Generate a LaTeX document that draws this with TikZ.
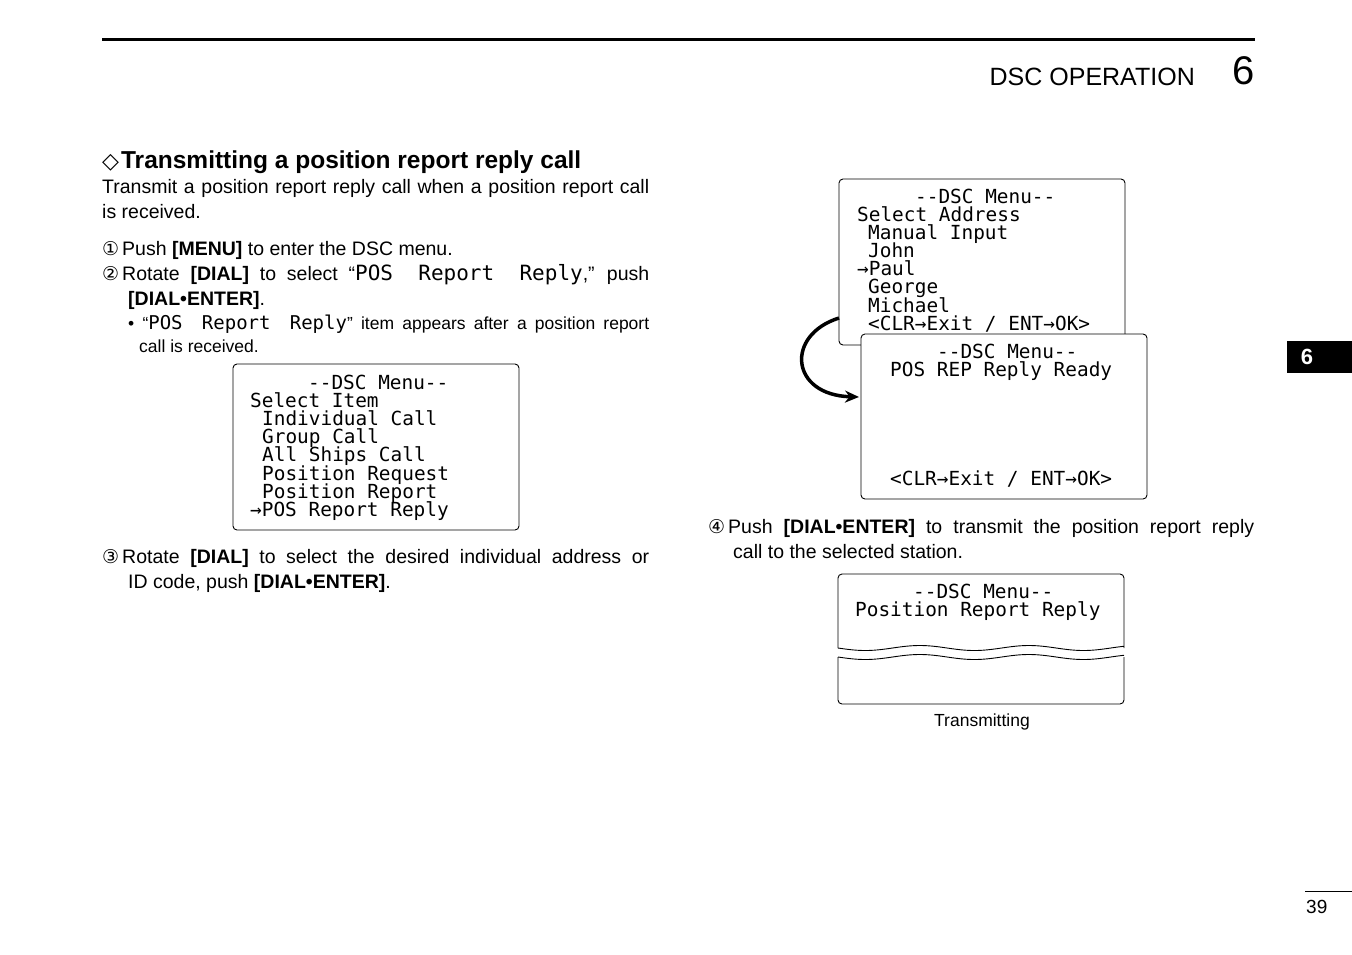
\documentclass[tikz,border=0pt]{standalone}
\usepackage{fontspec}
\setmainfont{Liberation Sans}
\newfontfamily\lcdf{DejaVu Sans Mono}
\newfontfamily\symf{DejaVu Sans}
\usetikzlibrary{arrows.meta}
\begin{document}
\begin{tikzpicture}[x=1pt,y=-1pt,
  body/.style={anchor=base west,inner sep=0,font=\fontsize{19.5}{22}\selectfont},
  lcd/.style={anchor=base west,inner sep=0,font=\lcdf\fontsize{19.4}{18}\selectfont},
  screen/.style={draw,line width=0.9,rounded corners=4,fill=white}]
\useasboundingbox (0,0) rectangle (1352,954);
\draw[line width=3] (102,39) -- (1255,39);
\node[anchor=base east,inner sep=0,font=\fontsize{25}{26}\selectfont] (hdr) at (1195,85) {DSC OPERATION};
\node[anchor=base east,inner sep=0,font=\fontsize{40}{40}\selectfont] (chap) at (1255,84) {6};
\fill (1287,341) rectangle (1352,373);
\node[text=white,font=\bfseries\fontsize{22}{22}\selectfont] (tab) at (1307,357) {6};
\draw[line width=0.8] (1305,891) -- (1352,891);
\node[anchor=base west,inner sep=0,font=\fontsize{19}{20}\selectfont] (pg) at (1306,913) {39};
% heading
\node[anchor=base west,inner sep=0,font=\bfseries\fontsize{24.5}{26}\selectfont] (h) at (102,168) {{\symf\fontsize{22}{24}\selectfont◇}\kern2pt Transmitting a position report reply call};
\node[body] (t1) at (102,193) {\makebox[547pt][s]{Transmit a position report reply call when a position report call}};
\node[body] (t2) at (102,218) {is received.};
\node[body] (s1) at (102,255) {{\symf\fontsize{19}{20}\selectfont①}\kern3pt Push \textbf{[MENU]} to enter the DSC menu.};
\node[body] (s2) at (102,280) {\makebox[547pt][s]{{\symf\fontsize{19}{20}\selectfont②}\kern3pt Rotate \textbf{[DIAL]} to select “{\lcdf\fontsize{21}{20}\selectfont POS~Report~Reply},” push}};
\node[body] (s2b) at (128,305) {\textbf{[DIAL•ENTER]}.};
\node[body,font=\fontsize{17.5}{20}\selectfont] (n1) at (128,329) {\makebox[521pt][s]{• “{\lcdf\fontsize{19}{18}\selectfont POS~Report~Reply}” item appears after a position report}};
\node[body,font=\fontsize{17.5}{20}\selectfont] (n2) at (139,352) {call is received.};
\node[body] (s3) at (102,563) {\makebox[547pt][s]{{\symf\fontsize{19}{20}\selectfont③}\kern3pt Rotate \textbf{[DIAL]} to select the desired individual address or}};
\node[body] (s3b) at (128,588) {ID code, push \textbf{[DIAL•ENTER]}.};
\node[body] (s4) at (708,533) {\makebox[546pt][s]{{\symf\fontsize{19}{20}\selectfont④}\kern3pt Push \textbf{[DIAL•ENTER]} to transmit the position report reply}};
\node[body] (s4b) at (733,558) {call to the selected station.};
% screen 1
\draw[screen] (233,364) rectangle (519,530);
\foreach \t/\x/\y in {{--DSC Menu--}/308/389, {Select Item}/250/407, {Individual Call}/262/425, {Group Call}/262/443, {All Ships Call}/262/461, {Position Request}/262/480, {Position Report}/262/498, {→POS Report Reply}/250/516}
  \node[lcd] at (\x,\y) {\t};
% screen 2
\draw[screen] (839,179) rectangle (1125,345);
\foreach \t/\x/\y in {{--DSC Menu--}/915/203, {Select Address}/857/221, {Manual Input}/868/239, {John}/868/257, {→Paul}/857/275, {George}/868/293, {Michael}/868/312}
  \node[lcd] at (\x,\y) {\t};
\node[lcd] at (868,330) {<CLR→Exit / ENT→OK>};
% screen 3
\draw[screen] (861,334) rectangle (1147,499);
\node[lcd] at (937,358) {--DSC Menu--};
\node[lcd] at (890,376) {POS REP Reply Ready};
\node[lcd] at (890,485) {<CLR→Exit / ENT→OK>};
\coordinate (a1) at (839,318);
\coordinate (a2) at (859,397);
\draw[line width=3.5,-{Stealth[length=14,width=12]}] (a1) .. controls (785,335) and (790,395) .. (a2);
% screen 4
\draw[line width=0.9,rounded corners=4] (838,648) -- (838,574) -- (1124,574) -- (1124,648);
\draw[line width=0.9,rounded corners=4] (838,657) -- (838,704) -- (1124,704) -- (1124,657);
\draw[line width=0.9] plot[domain=838:1124,samples=120] (\x,{648+2.5*sin((\x-838)*3.3)});
\draw[line width=0.9] plot[domain=838:1124,samples=120] (\x,{657+2.5*sin((\x-838)*3.3)});
\node[lcd] at (913,598) {--DSC Menu--};
\node[lcd] at (855,616) {Position Report Reply};
\node[anchor=base,inner sep=0,font=\fontsize{17.5}{20}\selectfont] (tx) at (982,726) {Transmitting};
\end{tikzpicture}
\end{document}
